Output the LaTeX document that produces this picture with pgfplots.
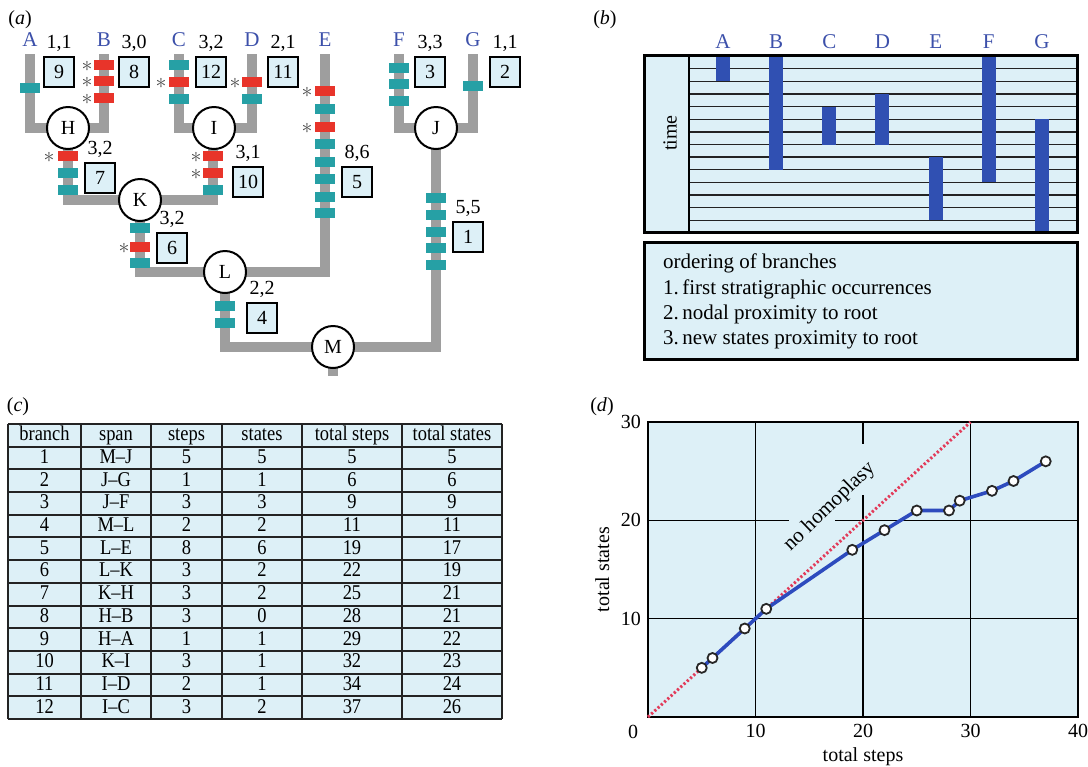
\documentclass[border=0pt]{standalone}
\usepackage{fontspec}
\setmainfont{Liberation Serif}
\newfontfamily\tabfont[FakeStretch=0.88, Ligatures=TeX]{Liberation Serif}
\usepackage{pgfplots}
\pgfplotsset{compat=1.18}
\definecolor{lb}{RGB}{221,240,247}
\definecolor{teal2}{RGB}{38,160,165}
\definecolor{red2}{RGB}{232,52,42}
\definecolor{br}{RGB}{158,158,158}
\definecolor{lblue}{RGB}{60,80,170}
\definecolor{barblue}{RGB}{48,80,178}
\definecolor{lineblue}{RGB}{45,75,190}
\definecolor{dotred}{RGB}{226,59,90}
\definecolor{dk}{RGB}{35,35,35}
\newcommand\fs[1]{\fontsize{#1}{#1}\selectfont}
\pgfdeclareplotmark{seg}{\pgfpathrectangle{\pgfpoint{-5bp}{-2.3bp}}{\pgfpoint{10bp}{4.6bp}}\pgfusepathqfill}
\begin{document}
\fs{10bp}%
\begin{tikzpicture}
\path[use as bounding box] (0,0) rectangle (544bp,-383.5bp);
% ---------------- panel (a): tree ----------------
\begin{axis}[at={(0,0)}, anchor=north west, scale only axis, width=544bp, height=383.5bp,
  xmin=0, xmax=1088, ymin=0, ymax=767, y dir=reverse, hide axis, clip=false]
\addplot[br, line width=4.8bp, line join=miter] coordinates {(30,54) (30,128) (104,128) (104,54)};
\addplot[br, line width=4.8bp, line join=miter] coordinates {(179,54) (179,128) (252,128) (252,54)};
\addplot[br, line width=4.8bp, line join=miter] coordinates {(68,128) (68,200) (213,200) (213,128)};
\addplot[br, line width=4.8bp, line join=miter] coordinates {(140,200) (140,272) (325,272) (325,54)};
\addplot[br, line width=4.8bp, line join=miter] coordinates {(225,272) (225,347) (436,347) (436,128)};
\addplot[br, line width=4.8bp, line join=miter] coordinates {(399,54) (399,128) (473,128) (473,54)};
\addplot[br, line width=4.8bp] coordinates {(333,347) (333,376)};
% character state changes
\addplot[only marks, mark=seg, teal2] coordinates {
 (30,88) (179,65) (179,99) (252,99)
 (325,109) (325,144) (325,162) (325,179) (325,197) (325,213)
 (399,68) (399,84) (399,101) (473,86)
 (68,173) (68,190) (213,190) (140,228) (140,263) (225,306) (225,323)
 (436,198) (436,215) (436,232) (436,248) (436,265)};
\addplot[only marks, mark=seg, red2] coordinates {
 (104,65) (104,81) (104,98) (179,82) (252,82) (325,91) (325,127)
 (68,156) (213,156) (213,173) (140,247)};
% asterisks
\foreach \p in {(87,66),(87,82),(87,99),(161,83),(235,83),(307,92),(307,128),(49,157),(196,157),(196,174),(124,248)}
  {\edef\tmp{\noexpand\node[black!70, font=\noexpand\fs{11bp}] at \p {$\noexpand\ast$};}\tmp}
% nodes
\foreach \x/\y/\l in {68/128/H, 214/128/I, 140/200/K, 225/272/L, 333/347/M, 436/128/J}
  {\edef\tmp{\noexpand\node[circle, draw=black, line width=1bp, fill=white, minimum size=21bp, inner sep=0pt] at (\x,\y) {\l};}\tmp}
% branch number boxes
\foreach \x/\y/\n/\s in {59/72/9/{1,1}, 134/72/8/{3,0}, 211/72/12/{3,2}, 283/72/11/{2,1}, 430/72/3/{3,3}, 505/72/2/{1,1},
  100/178/7/{3,2}, 248/182/10/{3,1}, 357/182/5/{8,6}, 172/248/6/{3,2}, 468/237/1/{5,5}, 262/318/4/{2,2}}
  {\edef\tmp{\noexpand\node[draw=black, line width=1.2bp, fill=lb, minimum size=15bp, inner sep=0pt] at (\x,\y) {\n};
   \noexpand\node[font=\noexpand\fs{10bp}] at (\x,\y-29) {\s};}\tmp}
% taxa
\foreach \x/\l in {30/A, 104/B, 179/C, 252/D, 325/E, 399/F, 473/G}
  {\edef\tmp{\noexpand\node[lblue, font=\noexpand\fs{10.5bp}] at (\x,40) {\l};}\tmp}
\end{axis}
% ---------------- panel (b) ----------------
\begin{scope}[x=0.5bp,y=-0.5bp]
\fill[lb] (645,56) rectangle (1078,233);
\end{scope}
\begin{axis}[at={(344.5bp,-116.5bp)}, anchor=south west, scale only axis, width=194.5bp, height=88.5bp,
  xmin=0.361, xmax=7.677, ymin=0, ymax=14, axis line style={draw=none},
  xtick={1,...,7}, xticklabels={A,B,C,D,E,F,G}, xticklabel pos=upper,
  ytick={1,...,13}, yticklabels={}, ymajorgrids, grid style={dk, line width=0.7bp},
  major tick length=0pt, xticklabel style={lblue, font=\fs{10.5bp}}, clip=false]
\addplot[barblue, line width=7bp] coordinates {(1,12) (1,14)};
\addplot[barblue, line width=7bp] coordinates {(2,5) (2,14)};
\addplot[barblue, line width=7bp] coordinates {(3,7) (3,10)};
\addplot[barblue, line width=7bp] coordinates {(4,7) (4,11)};
\addplot[barblue, line width=7bp] coordinates {(5,1) (5,6)};
\addplot[barblue, line width=7bp] coordinates {(6,4) (6,14)};
\addplot[barblue, line width=7bp] coordinates {(7,0) (7,9)};
\end{axis}
\begin{scope}[x=0.5bp,y=-0.5bp]
\draw[black, line width=1.5bp] (645,56) rectangle (1078,233);
\draw[black, line width=1bp] (689,56) -- (689,233);
\node[rotate=90] at (670,133) {time};
\node at (605,20) {(\textit{b})};
\node at (20,20) {(\textit{a})};
\filldraw[fill=lb, draw=black, line width=1.5bp] (645,243) rectangle (1078,360);
\begin{scope}[every node/.style={anchor=west, font=\fs{10.5bp}}]
\node at (656,263) {ordering of branches};
\node at (656,289) {1.\,first stratigraphic occurrences};
\node at (656,314) {2.\,nodal proximity to root};
\node at (656,340) {3.\,new states proximity to root};
\end{scope}
% ---------------- panel (c): table ----------------
\node at (18,407) {(\textit{c})};
\fill[lb] (8,424) rectangle (502,719);
\foreach \k in {0,...,13} \draw[dk, line width=1bp] (8,{424+22.69*\k}) -- (502,{424+22.69*\k});
\foreach \xx in {8,81,151,222,302,402,502} \draw[dk, line width=1bp] (\xx,424) -- (\xx,719);
\begin{scope}[every node/.style={text height=7bp, text depth=1.5bp, inner sep=0pt, font=\tabfont\fs{10.5bp}}]
\node at (44.5,435.3) {branch};
\node at (116,435.3) {span};
\node at (186.5,435.3) {steps};
\node at (262,435.3) {states};
\node at (352,435.3) {total steps};
\node at (452,435.3) {total states};
\foreach \i/\b/\c/\d/\e/\f in {1/M--J/5/5/5/5, 2/J--G/1/1/6/6, 3/J--F/3/3/9/9, 4/M--L/2/2/11/11,
  5/L--E/8/6/19/17, 6/L--K/3/2/22/19, 7/K--H/3/2/25/21, 8/H--B/3/0/28/21, 9/H--A/1/1/29/22,
  10/K--I/3/1/32/23, 11/I--D/2/1/34/24, 12/I--C/3/2/37/26}{
  \node at (44.5,{435.3+22.69*\i}) {\i};
  \node at (116,{435.3+22.69*\i}) {\b};
  \node at (186.5,{435.3+22.69*\i}) {\c};
  \node at (262,{435.3+22.69*\i}) {\d};
  \node at (352,{435.3+22.69*\i}) {\e};
  \node at (452,{435.3+22.69*\i}) {\f};
}
\end{scope}
\node at (602,407) {(\textit{d})};
\end{scope}
% ---------------- panel (d) ----------------
\begin{axis}[at={(324bp,-358.5bp)}, anchor=south west, scale only axis, width=215bp, height=147.5bp,
  xmin=0, xmax=40, ymin=0, ymax=30, axis background/.style={fill=lb},
  axis line style={line width=1.2bp, black}, xtick={10,20,30,40}, ytick={10,20,30},
  major tick length=0pt, xlabel={total steps}, ylabel={total states},
  /pgf/number format/assume math mode=true, clip=false,
  xlabel style={yshift=2bp}, ylabel style={yshift=-1bp}]
\draw[black, line width=0.8bp] (axis cs:10,0) -- (axis cs:10,30);
\draw[black, line width=0.8bp] (axis cs:30,0) -- (axis cs:30,30);
\draw[black, line width=0.8bp] (axis cs:20,0) -- (axis cs:20,22.6);
\draw[black, line width=0.8bp] (axis cs:20,27.8) -- (axis cs:20,30);
\draw[black, line width=0.8bp] (axis cs:0,10) -- (axis cs:40,10);
\draw[black, line width=0.8bp] (axis cs:0,20) -- (axis cs:13.1,20);
\draw[black, line width=0.8bp] (axis cs:17.4,20) -- (axis cs:40,20);
\addplot[dotred, line width=1.5bp, dash pattern=on 1.1bp off 1.1bp] coordinates {(0,0) (30,30)};
\addplot[lineblue, line width=1.8bp, mark=*, mark size=2.5bp,
  mark options={fill=white, draw=black!85, line width=0.9bp}] coordinates {
  (5,5) (6,6) (9,9) (11,11) (19,17) (22,19) (25,21) (28,21) (29,22) (32,23) (34,24) (37,26)};
\node[rotate=44, font=\fs{10.5bp}] at (axis cs:16.9,21.4) {no homoplasy};
\node at (axis cs:0,0) [xshift=-7.5bp, yshift=-7.5bp] {0};
\end{axis}
\end{tikzpicture}
\end{document}
